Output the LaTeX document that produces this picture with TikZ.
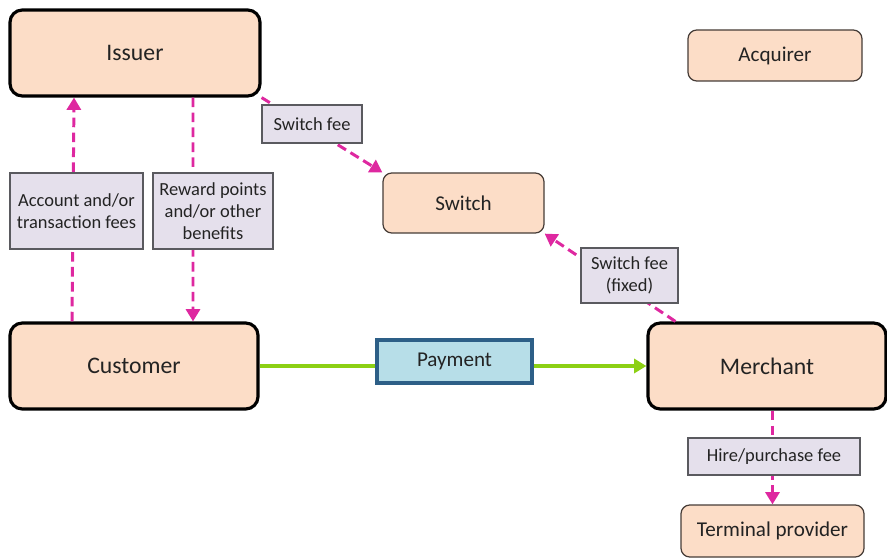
\documentclass[tikz,border=0pt]{standalone}
\usepackage{fontspec}
\setmainfont{Carlito}
\usepackage{tikz}
\usetikzlibrary{positioning, arrows.meta, calc}
\definecolor{BoxPeach}{RGB}{252,221,199}
\definecolor{BoxEdge}{RGB}{70,60,55}
\definecolor{LblLilac}{RGB}{229,224,236}
\definecolor{LblEdge}{RGB}{90,90,95}
\definecolor{FeePink}{RGB}{222,40,160}
\definecolor{PayGreen}{RGB}{140,208,20}
\definecolor{PayBlue}{RGB}{183,222,232}
\definecolor{PayEdge}{RGB}{45,95,135}
\definecolor{InkGray}{RGB}{35,35,35}

\begin{document}
\begin{tikzpicture}[
          party/.style={rectangle, rounded corners=7pt, draw=black, line width=1.8pt,
                        fill=BoxPeach, minimum height=1.72cm, text=InkGray,
                        font=\fontsize{13.5}{16}\selectfont},
          unit/.style={rectangle, rounded corners=5pt, draw=BoxEdge, line width=0.7pt,
                       fill=BoxPeach, text=InkGray, font=\fontsize{12}{14}\selectfont},
          fee/.style={rectangle, draw=LblEdge, line width=0.8pt, fill=LblLilac,
                      text=InkGray, align=center, inner sep=1pt,
                      font=\fontsize{10.5}{12.6}\selectfont},
          flow/.style={-{Triangle[length=7pt,width=8pt]}, FeePink, line width=1.7pt,
                       dash pattern=on 5.5pt off 3pt},
          paid/.style={-{Triangle[length=7pt,width=8pt]}, PayGreen, line width=2.4pt}
        ]
        \useasboundingbox (0,0) rectangle (17.74,11.16);

        % Parties
        \node[party, minimum width=5cm] (iss) at (2.70, 10.10) {Issuer};
        \node[party, minimum width=4.96cm] (cust) at (2.68, 3.84) {Customer};
        \node[party, minimum width=4.76cm] (mer) at (15.34, 3.84) {Merchant};

        % Other units
        \node[unit, minimum width=3.48cm, minimum height=1.02cm]
              (acq) at (15.50, 10.05) {Acquirer};
        \node[unit, minimum width=3.22cm, minimum height=1.20cm]
              (sw) at (9.27, 7.10) {Switch};
        \node[unit, minimum width=3.66cm, minimum height=1.04cm]
              (term) at (15.45, 0.54) {Terminal provider};

        % Fee flows
        \draw[flow] ([xshift=-1.24cm]cust.north) -- ([xshift=-1.22cm]iss.south);
        \draw[flow] ([xshift=1.16cm]iss.south) -- ([xshift=1.18cm]cust.north);
        \draw[flow] (iss.south east) -- (sw.north west);
        \draw[flow] ([xshift=0.58cm]mer.north west) -- (sw.south east);
        \draw[flow] (term |- mer.south) -- (term.north);

        % Payment
        \draw[paid] (cust.east) -- (mer.west);
        \node[rectangle, draw=PayEdge, line width=2.2pt, fill=PayBlue, text=InkGray,
              minimum width=3.10cm, minimum height=0.86cm,
              font=\fontsize{12}{14}\selectfont] (pay) at (9.09, 3.93) {Payment};

        % Fee labels
        \node[fee, minimum width=2.0cm, minimum height=0.76cm]
              (swfee) at (6.24, 8.68) {Switch fee};
        \node[fee, minimum width=2.66cm, minimum height=1.52cm]
              (acfee) at (1.53, 6.94) {Account and/or\\transaction fees};
        \node[fee, minimum width=2.40cm, minimum height=1.52cm]
              (rew) at (4.26, 6.94) {Reward points\\and/or other\\benefits};
        \node[fee, minimum width=1.94cm, minimum height=1.10cm]
              (fixfee) at (12.59, 5.65) {Switch fee\\(fixed)};
        \node[fee, minimum width=3.44cm, minimum height=0.74cm]
              (hire) at (15.48, 2.03) {Hire/purchase fee};
      \end{tikzpicture}
\end{document}
